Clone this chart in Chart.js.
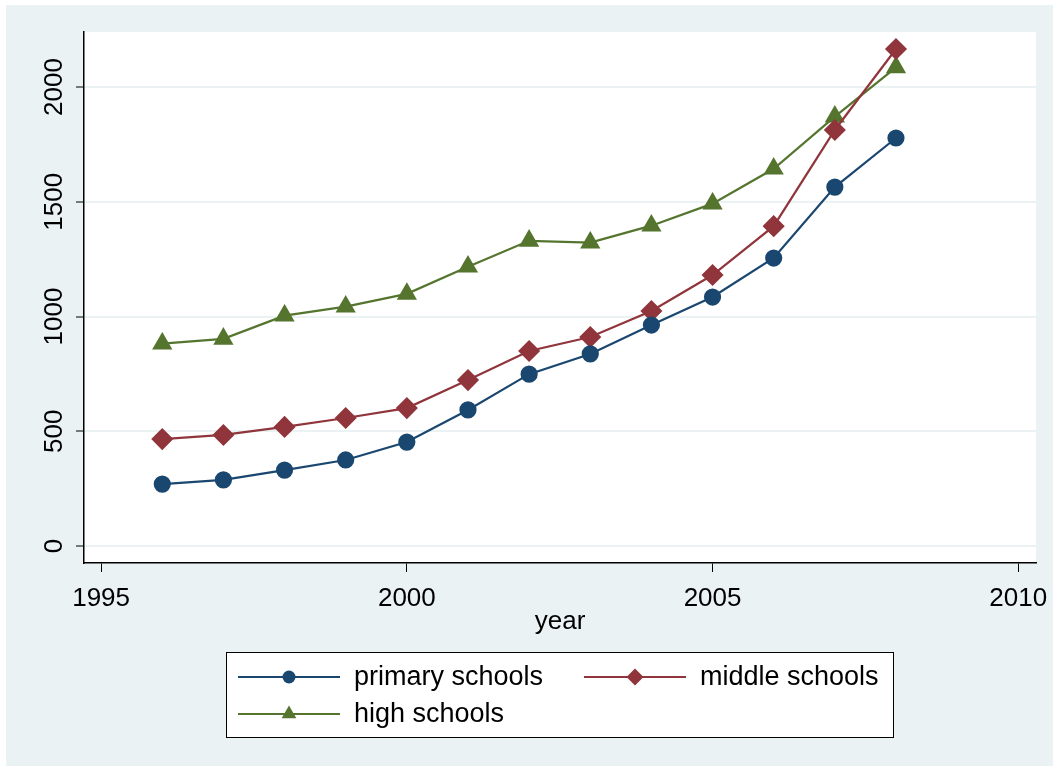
<!DOCTYPE html>
<html>
<head>
<meta charset="utf-8">
<script src="https://cdn.jsdelivr.net/npm/chart.js@4"></script>
<style>
  html, body { margin: 0; padding: 0; background: #fff; }
  #wrap { width: 1053px; height: 766px; }
</style>
</head>
<body>
<div id="wrap"><canvas id="schoolChart" width="1053" height="766"></canvas></div>
<script>
// Data
const years = [1996, 1997, 1998, 1999, 2000, 2001, 2002, 2003, 2004, 2005, 2006, 2007, 2008];
const primarySchools = [270, 288, 331, 375, 453, 593, 749, 837, 963, 1085, 1255, 1564, 1778];
const middleSchools = [466, 484, 519, 558, 601, 723, 850, 911, 1024, 1181, 1394, 1813, 2166];
const highSchools = [882, 903, 1004, 1043, 1099, 1217, 1330, 1322, 1396, 1492, 1644, 1871, 2086];
const seriesNames = ['primary schools', 'middle schools', 'high schools'];
const xTicks = [1995, 2000, 2005, 2010];
const yTicks = [0, 500, 1000, 1500, 2000];

const FONT = 'Liberation Sans, Arial, sans-serif';
const BG = '#EAF2F3';

const toPoints = vals => years.map((y, i) => ({ x: y, y: vals[i] }));

// background + plot area fill
const backdrop = {
  id: 'backdrop',
  beforeDraw(chart) {
    const { ctx, chartArea: a } = chart;
    ctx.save();
    ctx.fillStyle = '#fff';
    ctx.fillRect(0, 0, chart.width, chart.height);
    ctx.fillStyle = BG;
    ctx.fillRect(6, 5, chart.width - 6, chart.height - 5);
    ctx.fillStyle = '#fff';
    ctx.fillRect(a.left, a.top, a.right - a.left, a.bottom - a.top);
    ctx.restore();
  }
};

// Stata-like boxed legend under the plot
const boxLegend = {
  id: 'boxLegend',
  afterDraw(chart) {
    const ctx = chart.ctx;
    ctx.save();
    ctx.strokeStyle = '#000';
    ctx.lineWidth = 1;
    ctx.fillStyle = '#fff';
    ctx.fillRect(226.5, 652.5, 667, 85);
    ctx.strokeRect(226.5, 652.5, 667, 85);
    const slots = [[238, 677], [584, 677], [238, 714]];
    chart.data.datasets.forEach((ds, i) => {
      const [x, y] = slots[i];
      ctx.strokeStyle = ds.borderColor;
      ctx.lineWidth = 2.2;
      ctx.beginPath();
      ctx.moveTo(x, y);
      ctx.lineTo(x + 102, y);
      ctx.stroke();
      ctx.fillStyle = ds.backgroundColor;
      Chart.helpers.drawPoint(ctx, {
        pointStyle: ds.pointStyle, radius: ds.pointRadius - 1, rotation: 0, borderWidth: 0
      }, x + 51, y);
      ctx.fillStyle = '#000';
      ctx.font = '27px ' + FONT;
      ctx.textBaseline = 'middle';
      ctx.textAlign = 'left';
      ctx.fillText(ds.label, x + 116, y + 1);
    });
    ctx.restore();
  }
};

new Chart(document.getElementById('schoolChart'), {
  type: 'line',
  data: {
    datasets: [
      {
        label: seriesNames[0], data: toPoints(primarySchools),
        borderColor: '#1A476F', backgroundColor: '#1A476F',
        pointStyle: 'circle', pointRadius: 7.5, borderWidth: 2.2
      },
      {
        label: seriesNames[1], data: toPoints(middleSchools),
        borderColor: '#90353B', backgroundColor: '#90353B',
        pointStyle: 'rectRot', pointRadius: 9.5, borderWidth: 2.2
      },
      {
        label: seriesNames[2], data: toPoints(highSchools),
        borderColor: '#55752F', backgroundColor: '#55752F',
        pointStyle: 'triangle', pointRadius: 9.5, borderWidth: 2.2
      }
    ]
  },
  options: {
    responsive: false,
    animation: false,
    events: [],
    elements: { point: { borderWidth: 0 }, line: { tension: 0 } },
    layout: { padding: { left: 6, top: 32, right: 17, bottom: 123 } },
    plugins: { legend: { display: false }, tooltip: { enabled: false } },
    scales: {
      x: {
        type: 'linear',
        min: 1994.72, max: 2010.29,
        afterBuildTicks: s => { s.ticks = xTicks.map(v => ({ value: v })); },
        afterFit: s => { s.height = 80; s.paddingLeft = 0; s.paddingRight = 0; },
        grid: { drawOnChartArea: false, color: '#000', tickLength: 9, tickWidth: 1 },
        border: { color: '#000', width: 1.5 },
        ticks: { color: '#000', font: { family: FONT, size: 26 }, padding: 11, maxRotation: 0,
                 callback: v => String(v) },
        title: { display: true, text: 'year', color: '#000', font: { family: FONT, size: 26 },
                 padding: { top: 0, bottom: 6 } }
      },
      y: {
        min: -74, max: 2240,
        afterBuildTicks: s => { s.ticks = yTicks.map(v => ({ value: v })); },
        afterFit: s => { s.width = 78; s.paddingTop = 0; s.paddingBottom = 0; },
        grid: { color: BG, lineWidth: 2, tickColor: '#000', tickLength: 8, tickWidth: 1 },
        border: { color: '#000', width: 1.5 },
        ticks: { color: '#000', font: { family: FONT, size: 26 }, minRotation: 90, maxRotation: 90,
                 crossAlign: 'center', padding: -8, callback: v => String(v) }
      }
    }
  },
  plugins: [backdrop, boxLegend]
});
</script>
</body>
</html>
